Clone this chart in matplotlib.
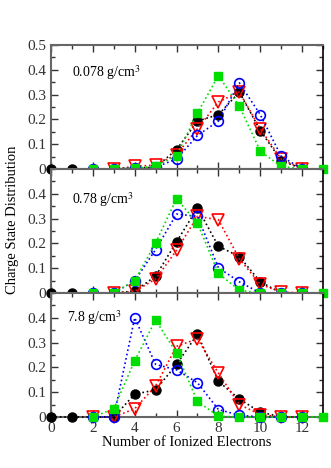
import numpy as np
import matplotlib
matplotlib.use('Agg')
import matplotlib.pyplot as plt
from matplotlib.ticker import MultipleLocator

plt.rcParams['font.family'] = ['Liberation Serif', 'DejaVu Serif']
plt.rcParams['mathtext.fontset'] = 'stix'

densities = ['0.078 g/cm$^3$', '0.78 g/cm$^3$', '7.8 g/cm$^3$']

# x positions for each series
x_black = [0, 1, 2, 3, 4, 5, 6, 7, 8, 9, 10, 11, 12]
x_green = [2, 3, 4, 5, 6, 7, 8, 9, 10, 11, 12, 13]
x_blue = [2, 3, 4, 5, 6, 7, 8, 9, 10, 11, 12]
x_red = [2, 3, 4, 5, 6, 7, 8, 9, 10, 11, 12]

# panel 1: 0.078 g/cm3
black_1 = [0, 0, 0, 0, 0.003, 0.007, 0.078, 0.193, 0.219, 0.31, 0.155, 0.034, 0]
green_1 = [0, 0, 0.003, 0.01, 0.054, 0.226, 0.376, 0.253, 0.072, 0.01, 0, 0]
blue_1 = [0, 0, 0.003, 0.007, 0.04, 0.135, 0.193, 0.347, 0.219, 0.051, 0]
red_1 = [None, 0, 0.01, 0.016, 0.058, 0.162, 0.27, 0.31, 0.162, 0.04, 0]

# panel 2: 0.78 g/cm3
black_2 = [0, 0, 0, 0, 0.007, 0.068, 0.206, 0.343, 0.188, 0.147, 0.045, 0, 0]
green_2 = [0, 0, 0.049, 0.202, 0.38, 0.281, 0.079, 0.011, 0, 0, 0, 0]
blue_2 = [0, 0, 0.049, 0.175, 0.318, 0.309, 0.102, 0.045, 0, 0, 0]
red_2 = [None, 0, 0.007, 0.056, 0.172, 0.309, 0.295, 0.138, 0.035, 0.004, 0]

# panel 3: 7.8 g/cm3
black_3 = [0, 0, 0, 0, 0.092, 0.109, 0.212, 0.334, 0.144, 0.072, 0.02, 0, 0]
green_3 = [0, 0.033, 0.227, 0.391, 0.258, 0.063, 0.003, 0, 0, 0, 0, 0]
blue_3 = [0, 0, 0.40, 0.212, 0.19, 0.138, 0.03, 0.007, 0, 0, 0]
red_3 = [0, 0, 0.033, 0.125, 0.285, 0.315, 0.177, 0.05, 0.01, 0, 0]

panels = [
    (black_1, green_1, blue_1, red_1),
    (black_2, green_2, blue_2, red_2),
    (black_3, green_3, blue_3, red_3),
]
label_pos = [(0.077, 0.78), (0.077, 0.75), (0.06, 0.80)]

fig = plt.figure(figsize=(3.31, 4.68), dpi=100)
axes = fig.subplots(3, 1, sharex=True)
fig.subplots_adjust(left=0.154, right=0.976, bottom=0.109, top=0.904, hspace=0)

for k, ax in enumerate(axes):
    black, green, blue, red = panels[k]
    red = np.array([np.nan if v is None else v for v in red], dtype=float)
    ax.plot(x_black, black, ':', color='black', lw=1.2, marker='o',
            ms=6.5, mfc='black', mec='black', clip_on=False, zorder=3)
    ax.plot(x_red, red, ':', color='red', lw=1.2, marker='v',
            ms=8.5, mfc='none', mec='red', mew=1.2, clip_on=False, zorder=4)
    ax.plot(x_blue, blue, ':', color='blue', lw=1.2, marker='o',
            ms=7, mfc='none', mec='blue', mew=1.2, clip_on=False, zorder=5)
    ax.plot(x_green, green, ':', color='#00dd00', lw=1.2, marker='s',
            ms=6, mfc='#00dd00', mec='#00dd00', clip_on=False, zorder=6)

    ax.set_xlim(0, 13)
    ax.set_ylim(0, 0.5)
    ax.xaxis.set_major_locator(MultipleLocator(2))
    ax.xaxis.set_minor_locator(MultipleLocator(1))
    ax.yaxis.set_major_locator(MultipleLocator(0.1))
    ax.yaxis.set_minor_locator(MultipleLocator(0.05))
    ax.tick_params(which='both', direction='in', top=True, right=True,
                   labelsize=11, colors='#333333')
    ax.tick_params(which='major', length=5, width=1)
    ax.tick_params(which='minor', length=3, width=1)
    if k == 0:
        ax.set_yticks([0, 0.1, 0.2, 0.3, 0.4, 0.5])
        ax.set_yticklabels(['0', '0.1', '0.2', '0.3', '0.4', '0.5'])
    else:
        ax.set_yticks([0, 0.1, 0.2, 0.3, 0.4])
        ax.set_yticklabels(['0', '0.1', '0.2', '0.3', '0.4'])
    for side in ['left', 'top', 'bottom']:
        ax.spines[side].set_color('#666666')
        ax.spines[side].set_linewidth(1.5)
    ax.spines['right'].set_color('black')
    ax.spines['right'].set_linewidth(1.2)
    ax.text(label_pos[k][0], label_pos[k][1], densities[k],
            transform=ax.transAxes, fontsize=10, va='center', ha='left')

axes[2].set_xticks([0, 2, 4, 6, 8, 10, 12])
axes[2].set_xticklabels(['0', '2', '4', '6', '8', '10', '12'])
axes[2].set_xlabel('Number of Ionized Electrons', fontsize=10.5, labelpad=1)
fig.text(0.037, 0.53, 'Charge State Distribution', rotation=90,
         fontsize=10.5, va='center', ha='center')

fig.savefig('out.png', dpi=100)
